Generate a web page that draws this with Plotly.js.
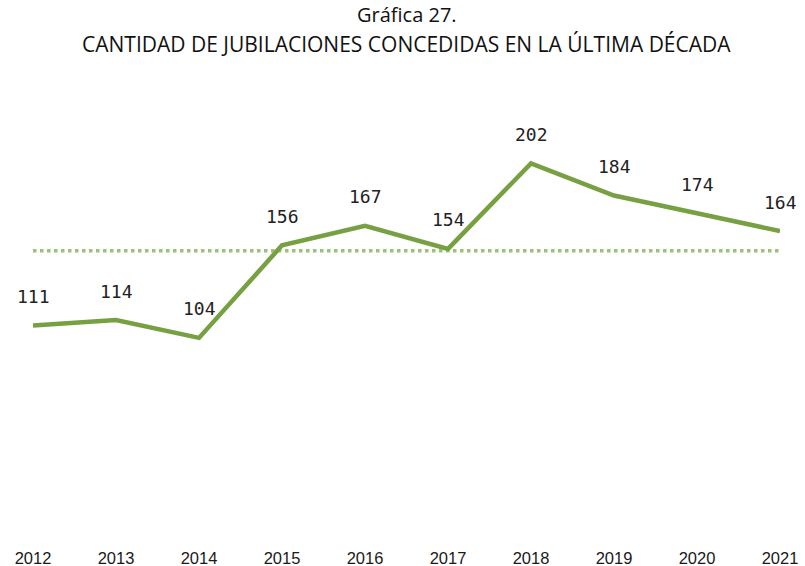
<!DOCTYPE html>
<html>
<head>
<meta charset="utf-8">
<script src="https://cdn.plot.ly/plotly-3.0.1.min.js"></script>
<style>html,body{margin:0;padding:0;background:#fff;}#chart{width:805px;height:566px;}</style>
</head>
<body>
<div id="chart"></div>
<script>
const years = ['2012','2013','2014','2015','2016','2017','2018','2019','2020','2021'];
const jubilaciones = [111, 114, 104, 156, 167, 154, 202, 184, 174, 164];
const promedio = 153;
const titleLine1 = 'Gráfica 27.';
const titleLine2 = 'CANTIDAD DE JUBILACIONES CONCEDIDAS EN LA ÚLTIMA DÉCADA';

const green = '#77a043';

const traces = [
  {
    x: years, y: years.map(() => promedio), type: 'scatter', mode: 'lines',
    line: {color: '#9fc07a', width: 3.5, dash: 'dot'}, hoverinfo: 'skip'
  },
  {
    x: years, y: jubilaciones, type: 'scatter', mode: 'lines',
    line: {color: green, width: 4.5}
  }
];

// category axis: annotation x given as category index
const annotations = years.map((yr, i) => ({
  x: i, y: jubilaciones[i], text: String(jubilaciones[i]), showarrow: false,
  xref: 'x', yref: 'y', yshift: 29,
  font: {family: 'DejaVu Sans Mono', size: 18, color: '#222'}
}));
annotations.push({
  xref: 'paper', yref: 'paper', x: 0.5, y: 1, yshift: 64, xanchor: 'center', yanchor: 'middle',
  showarrow: false, text: titleLine1,
  font: {family: 'Open Sans', size: 20, color: '#111'}
});
annotations.push({
  xref: 'paper', yref: 'paper', x: 0.5, y: 1, yshift: 34, xanchor: 'center', yanchor: 'middle',
  showarrow: false, text: titleLine2,
  font: {family: 'Open Sans', size: 21, color: '#111'}
});

const layout = {
  width: 805, height: 566,
  margin: {l: 33, r: 25, t: 78, b: 43},
  paper_bgcolor: '#fff', plot_bgcolor: '#fff',
  showlegend: false,
  xaxis: {
    type: 'category', range: [0, 9], showgrid: false, zeroline: false, showline: false,
    ticks: '', ticklabelstandoff: 23,
    tickfont: {family: 'Liberation Sans', size: 16.5, color: '#1a1a1a'}
  },
  yaxis: {
    range: [0, 250], showgrid: false, zeroline: false, showline: false,
    showticklabels: false, ticks: ''
  },
  annotations: annotations
};

Plotly.newPlot('chart', traces, layout, {displayModeBar: false, staticPlot: true});
</script>
</body>
</html>
